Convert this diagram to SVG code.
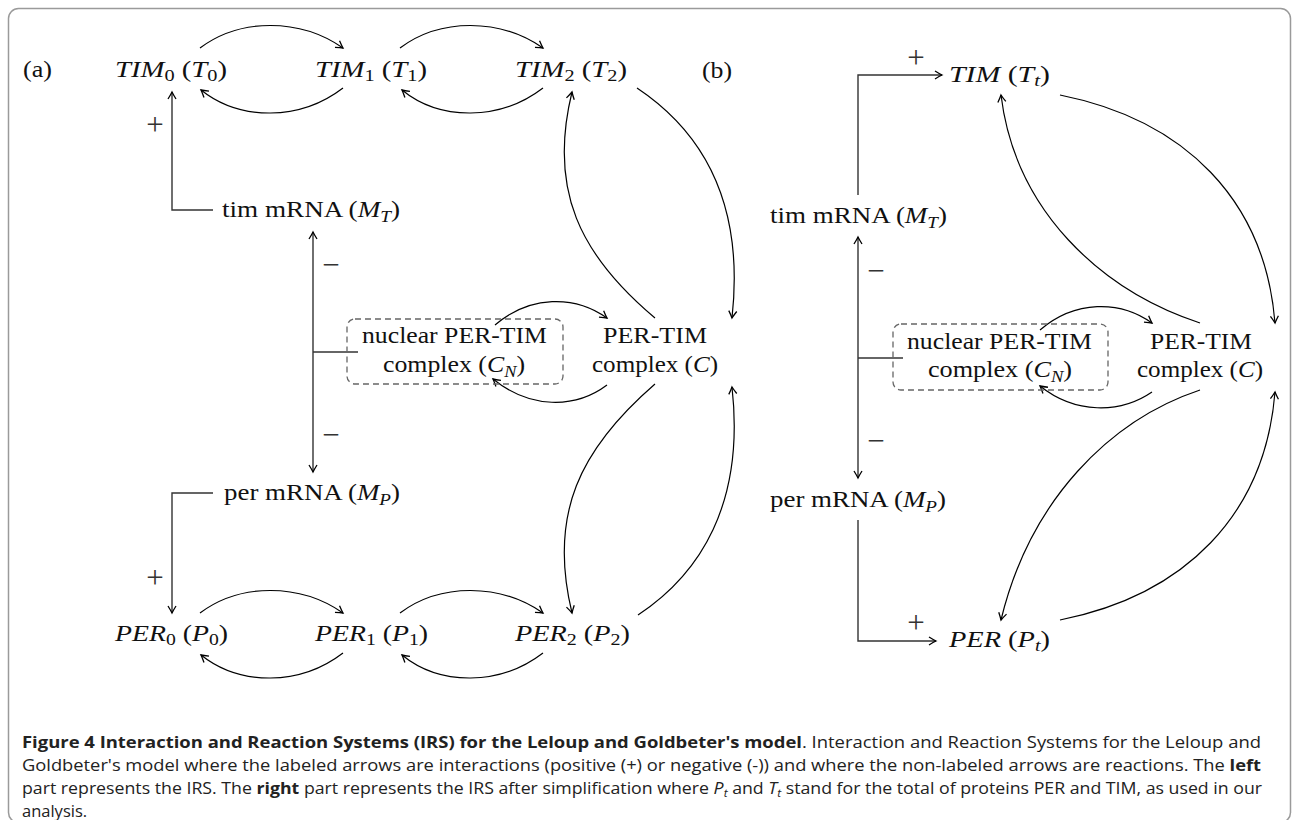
<svg xmlns="http://www.w3.org/2000/svg" width="1292" height="820" viewBox="0 0 1292 820">
<defs>
<style>
.lbl{font-family:"Liberation Serif","Times New Roman",serif;font-size:24px;fill:#111}
.it{font-style:italic}
.sub{font-size:17px}
.sign{font-family:"Liberation Serif","Times New Roman",serif;font-size:31px;fill:#333;text-anchor:middle}
.cap{font-family:"Open Sans","Liberation Sans",sans-serif;font-size:16.5px;fill:#222}
.b{font-weight:bold}
.rx{fill:none;stroke:#000;stroke-width:1.2;marker-end:url(#ah)}
.ix{fill:none;stroke:#333;stroke-width:1.4}
.ixa{fill:none;stroke:#333;stroke-width:1.4;marker-end:url(#ah)}
.box{fill:none;stroke:#666;stroke-width:1.3;stroke-dasharray:6 4}
</style>
<marker id="ah" viewBox="-9 -6 11 12" markerWidth="11" markerHeight="12" refX="0" refY="0" orient="auto" markerUnits="userSpaceOnUse">
<path d="M-7,-4 Q-2.5,-1.2 0,0 Q-2.5,1.2 -7,4" fill="none" stroke="#000" stroke-width="1.3"/>
</marker>
</defs>
<rect x="8.5" y="8.5" width="1282" height="814" rx="10" fill="#fff" stroke="#9a9a9a" stroke-width="1.5"/>

<g id="connectors">
<!-- left: TIM chain -->
<path class="rx" d="M200,48 C240,18 300,18 343,48"/>
<path class="rx" d="M343,88 C300,121 240,121 201,90"/>
<path class="rx" d="M400,48 C440,18 500,18 543,48"/>
<path class="rx" d="M543,88 C500,121 440,121 402,90"/>
<!-- left: PER chain -->
<path class="rx" d="M200,613 C240,583 300,583 343,613"/>
<path class="rx" d="M343,653 C300,686 240,686 201,655"/>
<path class="rx" d="M400,613 C440,583 500,583 543,613"/>
<path class="rx" d="M543,653 C500,686 440,686 402,655"/>
<!-- left: complex links -->
<path class="rx" d="M655,318 C580,255 548,190 572,92"/>
<path class="rx" d="M637,88 C700,130 745,200 732,318"/>
<path class="rx" d="M655,384 C580,449 548,514 572,613"/>
<path class="rx" d="M638,615 C700,574 745,504 732,387"/>
<path class="rx" d="M495,325 C530,295 575,295 607,318"/>
<path class="rx" d="M607,385 C575,409 530,409 493,379"/>
<!-- left: interactions -->
<path class="ixa" d="M213,210 H172 V92"/>
<path class="ixa" d="M213,493 H172 V613"/>
<path class="ixa" d="M313,352 V232"/>
<path class="ixa" d="M313,352 V472"/>
<path class="ix" d="M313,352 H358" stroke-width="2"/>
<!-- right: interactions -->
<path class="ixa" d="M858,195 V75 H942"/>
<path class="ixa" d="M858,520 V641 H936"/>
<path class="ixa" d="M858,358 V237"/>
<path class="ixa" d="M858,358 V478"/>
<path class="ix" d="M858,358 H903" stroke-width="2"/>
<!-- right: reactions -->
<path class="rx" d="M1060,95 C1185,120 1265,200 1275,323"/>
<path class="rx" d="M1200,323 C1100,290 1015,210 1001,95"/>
<path class="rx" d="M1200,390 C1110,420 1030,500 1001,620"/>
<path class="rx" d="M1060,620 C1185,595 1265,515 1275,392"/>
<path class="rx" d="M1040,330 C1075,300 1120,300 1152,323"/>
<path class="rx" d="M1152,392 C1120,414 1075,414 1040,386"/>
<!-- signs -->
<text class="sign" x="155" y="135">+</text>
<text class="sign" x="155" y="588">+</text>
<text class="sign" x="331" y="275">−</text>
<text class="sign" x="331" y="445">−</text>
<text class="sign" x="916" y="68">+</text>
<text class="sign" x="916" y="633">+</text>
<text class="sign" x="876" y="281">−</text>
<text class="sign" x="876" y="451">−</text>
</g>

<g id="label-a"><text class="lbl" x="23" y="77" textLength="29" lengthAdjust="spacingAndGlyphs">(a)</text></g>
<g id="label-b"><text class="lbl" x="702" y="78" textLength="30" lengthAdjust="spacingAndGlyphs">(b)</text></g>

<g id="T0"><text class="lbl" x="115" y="77" textLength="112" lengthAdjust="spacingAndGlyphs"><tspan class="it">TIM</tspan><tspan class="sub" dy="4">0</tspan><tspan dy="-4"> (</tspan><tspan class="it">T</tspan><tspan class="sub" dy="4">0</tspan><tspan dy="-4">)</tspan></text></g>
<g id="T1"><text class="lbl" x="315" y="77" textLength="112" lengthAdjust="spacingAndGlyphs"><tspan class="it">TIM</tspan><tspan class="sub" dy="4">1</tspan><tspan dy="-4"> (</tspan><tspan class="it">T</tspan><tspan class="sub" dy="4">1</tspan><tspan dy="-4">)</tspan></text></g>
<g id="T2"><text class="lbl" x="515" y="77" textLength="112" lengthAdjust="spacingAndGlyphs"><tspan class="it">TIM</tspan><tspan class="sub" dy="4">2</tspan><tspan dy="-4"> (</tspan><tspan class="it">T</tspan><tspan class="sub" dy="4">2</tspan><tspan dy="-4">)</tspan></text></g>

<g id="MT"><text class="lbl" x="222" y="217" textLength="178" lengthAdjust="spacingAndGlyphs">tim mRNA (<tspan class="it">M</tspan><tspan class="sub it" dy="5">T</tspan><tspan dy="-5">)</tspan></text></g>
<g id="MP"><text class="lbl" x="224" y="500" textLength="176" lengthAdjust="spacingAndGlyphs">per mRNA (<tspan class="it">M</tspan><tspan class="sub it" dy="5">P</tspan><tspan dy="-5">)</tspan></text></g>

<g id="CN">
<rect class="box" x="347" y="319" width="216" height="65" rx="8"/>
<text class="lbl" x="362" y="343" textLength="185" lengthAdjust="spacingAndGlyphs">nuclear PER-TIM</text>
<text class="lbl" x="383" y="372" textLength="142" lengthAdjust="spacingAndGlyphs">complex (<tspan class="it">C</tspan><tspan class="sub it" dy="5">N</tspan><tspan dy="-5">)</tspan></text>
</g>
<g id="C">
<text class="lbl" x="603" y="343" textLength="104" lengthAdjust="spacingAndGlyphs">PER-TIM</text>
<text class="lbl" x="592" y="372" textLength="126" lengthAdjust="spacingAndGlyphs">complex (<tspan class="it">C</tspan>)</text>
</g>

<g id="P0"><text class="lbl" x="115" y="641" textLength="113" lengthAdjust="spacingAndGlyphs"><tspan class="it">PER</tspan><tspan class="sub" dy="4">0</tspan><tspan dy="-4"> (</tspan><tspan class="it">P</tspan><tspan class="sub" dy="4">0</tspan><tspan dy="-4">)</tspan></text></g>
<g id="P1"><text class="lbl" x="315" y="641" textLength="113" lengthAdjust="spacingAndGlyphs"><tspan class="it">PER</tspan><tspan class="sub" dy="4">1</tspan><tspan dy="-4"> (</tspan><tspan class="it">P</tspan><tspan class="sub" dy="4">1</tspan><tspan dy="-4">)</tspan></text></g>
<g id="P2"><text class="lbl" x="515" y="641" textLength="115" lengthAdjust="spacingAndGlyphs"><tspan class="it">PER</tspan><tspan class="sub" dy="4">2</tspan><tspan dy="-4"> (</tspan><tspan class="it">P</tspan><tspan class="sub" dy="4">2</tspan><tspan dy="-4">)</tspan></text></g>

<g id="Tt"><text class="lbl" x="949" y="82" textLength="101" lengthAdjust="spacingAndGlyphs"><tspan class="it">TIM</tspan> (<tspan class="it">T</tspan><tspan class="sub it" dy="4">t</tspan><tspan dy="-4">)</tspan></text></g>
<g id="MT-r"><text class="lbl" x="770" y="223" textLength="177" lengthAdjust="spacingAndGlyphs">tim mRNA (<tspan class="it">M</tspan><tspan class="sub it" dy="5">T</tspan><tspan dy="-5">)</tspan></text></g>
<g id="CN-r">
<rect class="box" x="893" y="324" width="215" height="66" rx="8"/>
<text class="lbl" x="907" y="349" textLength="185" lengthAdjust="spacingAndGlyphs">nuclear PER-TIM</text>
<text class="lbl" x="928" y="377" textLength="144" lengthAdjust="spacingAndGlyphs">complex (<tspan class="it">C</tspan><tspan class="sub it" dy="5">N</tspan><tspan dy="-5">)</tspan></text>
</g>
<g id="C-r">
<text class="lbl" x="1150" y="349" textLength="102" lengthAdjust="spacingAndGlyphs">PER-TIM</text>
<text class="lbl" x="1137" y="377" textLength="126" lengthAdjust="spacingAndGlyphs">complex (<tspan class="it">C</tspan>)</text>
</g>
<g id="MP-r"><text class="lbl" x="770" y="507" textLength="176" lengthAdjust="spacingAndGlyphs">per mRNA (<tspan class="it">M</tspan><tspan class="sub it" dy="5">P</tspan><tspan dy="-5">)</tspan></text></g>
<g id="Pt"><text class="lbl" x="949" y="647" textLength="101" lengthAdjust="spacingAndGlyphs"><tspan class="it">PER</tspan> (<tspan class="it">P</tspan><tspan class="sub it" dy="4">t</tspan><tspan dy="-4">)</tspan></text></g>

<g id="caption">
<text class="cap" x="22" y="748" textLength="1239" lengthAdjust="spacingAndGlyphs"><tspan class="b">Figure 4 Interaction and Reaction Systems (IRS) for the Leloup and Goldbeter's model</tspan>. Interaction and Reaction Systems for the Leloup and</text>
<text class="cap" x="22" y="771" textLength="1239" lengthAdjust="spacingAndGlyphs">Goldbeter's model where the labeled arrows are interactions (positive (+) or negative (-)) and where the non-labeled arrows are reactions. The <tspan class="b">left</tspan></text>
<text class="cap" x="22" y="794" textLength="1240" lengthAdjust="spacingAndGlyphs">part represents the IRS. The <tspan class="b">right</tspan> part represents the IRS after simplification where <tspan font-style="italic">P</tspan><tspan font-style="italic" font-size="11px" dy="3">t</tspan><tspan dy="-3"> and </tspan><tspan font-style="italic">T</tspan><tspan font-style="italic" font-size="11px" dy="3">t</tspan><tspan dy="-3"> stand for the total of proteins PER and TIM, as used in our</tspan></text>
<text class="cap" x="22" y="817">analysis.</text>
</g>
</svg>
